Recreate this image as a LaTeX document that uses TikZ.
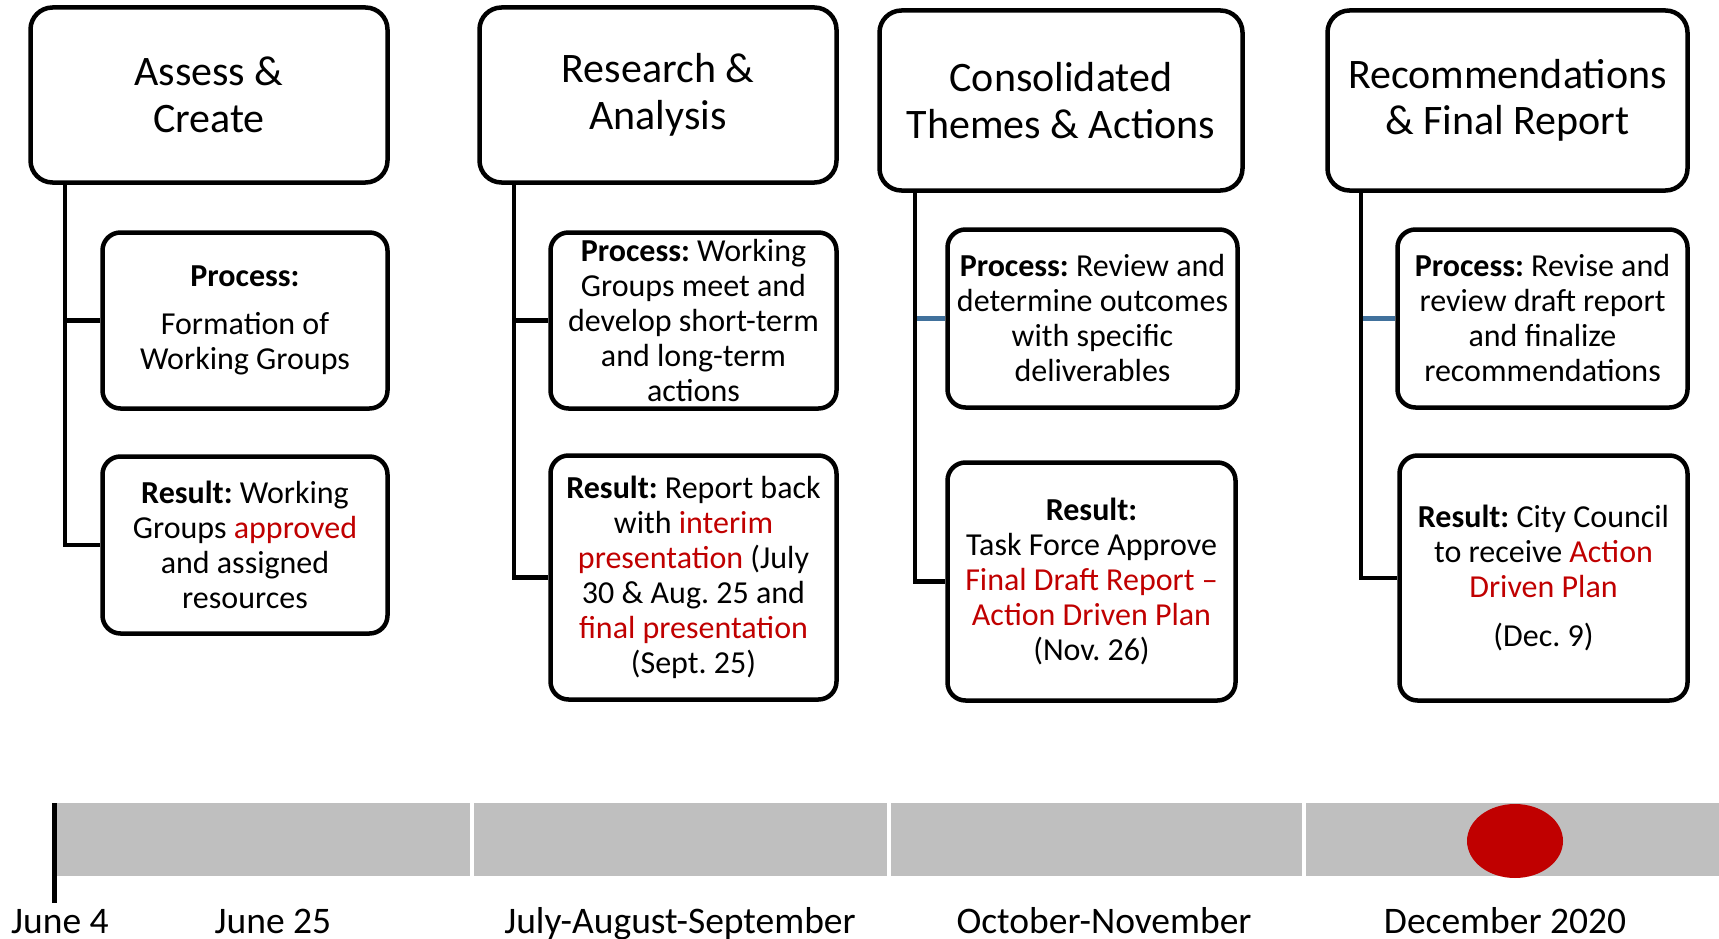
\documentclass[tikz,border=0pt]{standalone}
\usepackage{fontspec}
\setmainfont{Carlito}
\frenchspacing
\definecolor{hl}{RGB}{192,0,0}
\definecolor{barfill}{RGB}{191,191,191}
\definecolor{linkblue}{RGB}{65,113,156}
\begin{document}
\begin{tikzpicture}[x=1pt,y=1pt,
  titlebox/.style={draw, line width=4.5pt, rounded corners=22pt, align=center, font=\fontsize{42}{46.5}\selectfont\frenchspacing, inner sep=0pt},
  infobox/.style={draw, line width=4.5pt, rounded corners=18pt, align=center, font=\fontsize{32}{35}\selectfont\frenchspacing, inner sep=0pt},
  conn/.style={line width=4.5pt},
  blueconn/.style={line width=4.5pt, draw=linkblue},
  datelabel/.style={anchor=base, font=\fontsize{37.5}{40}\selectfont, inner sep=0pt}]
\useasboundingbox (0,0) rectangle (1719,-939);

% title boxes
\node[titlebox, minimum width=357pt, minimum height=175pt] (T1) at (209,-95) {Assess \&\\Create};
\node[titlebox, minimum width=357pt, minimum height=175pt] (T2) at (658,-95) {Research \&\\Analysis};
\node[titlebox, minimum width=363pt, minimum height=180pt] (T3) at (1061,-100.5) {Consolidated\\Themes \& Actions};
\node[titlebox, minimum width=360pt, minimum height=180pt] (T4) at (1507.5,-100.5) {Recommendations\\\& Final Report};

% process boxes
\node[infobox, minimum width=285pt, minimum height=176pt] (P1) at (245,-320.5) {\textbf{Process:}\\[13pt]Formation of\\Working Groups};
\node[infobox, minimum width=286pt, minimum height=176pt] (P2) at (693.5,-320.5) {\textbf{Process:} Working\\Groups meet and\\develop short-term\\and long-term\\actions};
\node[infobox, minimum width=290pt, minimum height=178pt] (P3) at (1092.5,-318.5) {\textbf{Process:} Review and\\determine outcomes\\with specific\\deliverables};
\node[infobox, minimum width=290pt, minimum height=178pt] (P4) at (1542.5,-318.5) {\textbf{Process:} Revise and\\review draft report\\and finalize\\recommendations};

% result boxes
\node[infobox, minimum width=285pt, minimum height=177pt] (R1) at (245,-545) {\textbf{Result:} Working\\Groups \textcolor{hl}{approved}\\and assigned\\resources};
\node[infobox, minimum width=286pt, minimum height=244pt] (R2) at (693.5,-577.5) {\textbf{Result:} Report back\\with \textcolor{hl}{interim}\\\textcolor{hl}{presentation} (July\\30 \& Aug. 25 and\\\textcolor{hl}{final presentation}\\(Sept. 25)};
\node[infobox, minimum width=288pt, minimum height=238pt] (R3) at (1091.5,-581.5) {\textbf{Result:}\\Task Force Approve\\\textcolor{hl}{Final Draft Report –}\\\textcolor{hl}{Action Driven Plan}\\(Nov. 26)};
\node[infobox, minimum width=288pt, minimum height=245pt] (R4) at (1543.5,-578) {\textbf{Result:} City Council\\to receive \textcolor{hl}{Action}\\\textcolor{hl}{Driven Plan}\\[14pt](Dec. 9)};

% spine coordinates
\coordinate (c1) at (65,0);
\coordinate (c2) at (514,0);
\coordinate (c3) at (915,0);
\coordinate (c4) at (1361,0);

% connectors
\draw[conn] (P1.west) -- (P1.west -| c1);
\draw[conn] (P2.west) -- (P2.west -| c2);
\draw[blueconn] (P3.west) -- (P3.west -| c3);
\draw[blueconn] (P4.west) -- (P4.west -| c4);
\draw[conn] (T1.south -| c1) |- (R1.west);
\draw[conn] (T2.south -| c2) |- (R2.west);
\draw[conn] (T3.south -| c3) |- (R3.west);
\draw[conn] (T4.south -| c4) |- (R4.west);

% timeline
\fill[barfill] (57,-803) rectangle (470,-876);
\fill[barfill] (474,-803) rectangle (887,-876);
\fill[barfill] (891,-803) rectangle (1302,-876);
\fill[barfill] (1306,-803) rectangle (1719,-876);
\fill[black] (52,-803) rectangle (57,-903);
\fill[hl] (1515,-841) ellipse [x radius=48, y radius=37];

\node[datelabel] (d1) at (60,-933) {June 4};
\node[datelabel] (d2) at (273,-933) {June 25};
\node[datelabel] (d3) at (680,-933) {July-August-September};
\node[datelabel] (d4) at (1104,-933) {October-November};
\node[datelabel] (d5) at (1505,-933) {December 2020};
\end{tikzpicture}
\end{document}
